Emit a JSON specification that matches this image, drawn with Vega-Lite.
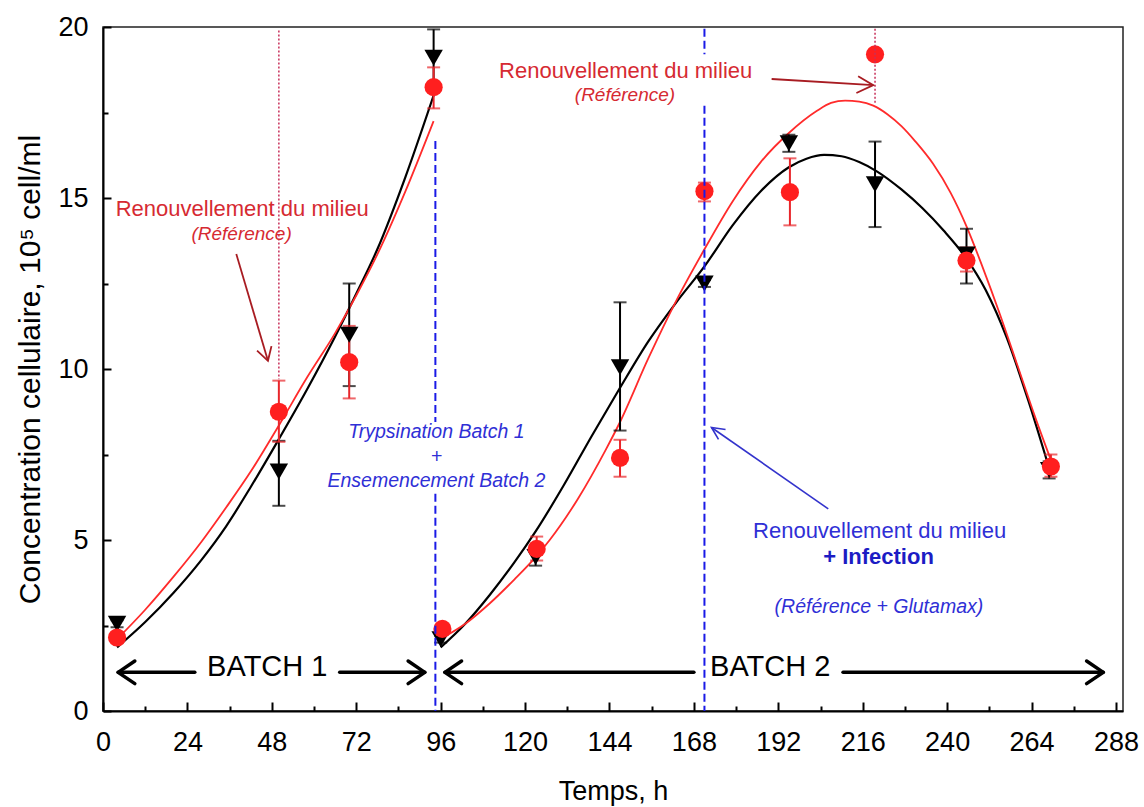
{
  "$schema": "https://vega.github.io/schema/vega-lite/v6.json",
  "width": 1020,
  "height": 684,
  "autosize": "none",
  "padding": {"left": 103, "top": 27, "right": 21, "bottom": 96},
  "background": "white",
  "config": {"font": "Liberation Sans", "view": {"stroke": "#222222", "strokeWidth": 1.5}},
  "datasets": {
    "curves": [
      {"t": 4, "y": 1.86, "s": "black", "seg": "b1"},
      {"t": 12, "y": 2.6, "s": "black", "seg": "b1"},
      {"t": 20, "y": 3.45, "s": "black", "seg": "b1"},
      {"t": 28, "y": 4.42, "s": "black", "seg": "b1"},
      {"t": 35, "y": 5.4, "s": "black", "seg": "b1"},
      {"t": 42, "y": 6.55, "s": "black", "seg": "b1"},
      {"t": 50, "y": 7.95, "s": "black", "seg": "b1"},
      {"t": 58, "y": 9.4, "s": "black", "seg": "b1"},
      {"t": 66, "y": 10.95, "s": "black", "seg": "b1"},
      {"t": 72, "y": 12.2, "s": "black", "seg": "b1"},
      {"t": 78, "y": 13.5, "s": "black", "seg": "b1"},
      {"t": 86, "y": 15.62, "s": "black", "seg": "b1"},
      {"t": 94, "y": 18.0, "s": "black", "seg": "b1"},
      {"t": 96, "y": 1.86, "s": "black", "seg": "b2"},
      {"t": 103, "y": 2.55, "s": "black", "seg": "b2"},
      {"t": 110, "y": 3.4, "s": "black", "seg": "b2"},
      {"t": 117, "y": 4.35, "s": "black", "seg": "b2"},
      {"t": 123, "y": 5.25, "s": "black", "seg": "b2"},
      {"t": 131, "y": 6.6, "s": "black", "seg": "b2"},
      {"t": 139, "y": 8.05, "s": "black", "seg": "b2"},
      {"t": 147, "y": 9.45, "s": "black", "seg": "b2"},
      {"t": 155, "y": 10.8, "s": "black", "seg": "b2"},
      {"t": 163, "y": 11.95, "s": "black", "seg": "b2"},
      {"t": 171, "y": 13.0, "s": "black", "seg": "b2"},
      {"t": 179, "y": 14.2, "s": "black", "seg": "b2"},
      {"t": 187, "y": 15.2, "s": "black", "seg": "b2"},
      {"t": 195, "y": 15.9, "s": "black", "seg": "b2"},
      {"t": 200, "y": 16.15, "s": "black", "seg": "b2"},
      {"t": 205, "y": 16.26, "s": "black", "seg": "b2"},
      {"t": 210, "y": 16.22, "s": "black", "seg": "b2"},
      {"t": 215, "y": 16.05, "s": "black", "seg": "b2"},
      {"t": 220, "y": 15.78, "s": "black", "seg": "b2"},
      {"t": 227, "y": 15.25, "s": "black", "seg": "b2"},
      {"t": 233, "y": 14.7, "s": "black", "seg": "b2"},
      {"t": 239, "y": 14.05, "s": "black", "seg": "b2"},
      {"t": 245, "y": 13.3, "s": "black", "seg": "b2"},
      {"t": 251, "y": 12.3, "s": "black", "seg": "b2"},
      {"t": 257, "y": 10.9, "s": "black", "seg": "b2"},
      {"t": 263, "y": 9.1, "s": "black", "seg": "b2"},
      {"t": 269, "y": 7.1, "s": "black", "seg": "b2"},
      {"t": 4, "y": 2.1, "s": "red", "seg": "r1"},
      {"t": 12, "y": 2.96, "s": "red", "seg": "r1"},
      {"t": 20, "y": 3.92, "s": "red", "seg": "r1"},
      {"t": 28, "y": 4.95, "s": "red", "seg": "r1"},
      {"t": 35, "y": 5.95, "s": "red", "seg": "r1"},
      {"t": 42, "y": 7.0, "s": "red", "seg": "r1"},
      {"t": 50, "y": 8.35, "s": "red", "seg": "r1"},
      {"t": 58, "y": 9.75, "s": "red", "seg": "r1"},
      {"t": 66, "y": 11.05, "s": "red", "seg": "r1"},
      {"t": 72, "y": 12.15, "s": "red", "seg": "r1"},
      {"t": 78, "y": 13.35, "s": "red", "seg": "r1"},
      {"t": 86, "y": 15.2, "s": "red", "seg": "r1"},
      {"t": 94, "y": 17.25, "s": "red", "seg": "r1"},
      {"t": 96.7, "y": 2.15, "s": "red", "seg": "r2"},
      {"t": 103, "y": 2.55, "s": "red", "seg": "r2"},
      {"t": 110, "y": 3.15, "s": "red", "seg": "r2"},
      {"t": 117, "y": 3.85, "s": "red", "seg": "r2"},
      {"t": 123, "y": 4.5, "s": "red", "seg": "r2"},
      {"t": 127, "y": 5.0, "s": "red", "seg": "r2"},
      {"t": 135, "y": 6.2, "s": "red", "seg": "r2"},
      {"t": 143, "y": 7.65, "s": "red", "seg": "r2"},
      {"t": 147, "y": 8.45, "s": "red", "seg": "r2"},
      {"t": 155, "y": 10.3, "s": "red", "seg": "r2"},
      {"t": 163, "y": 12.0, "s": "red", "seg": "r2"},
      {"t": 171, "y": 13.5, "s": "red", "seg": "r2"},
      {"t": 179, "y": 14.9, "s": "red", "seg": "r2"},
      {"t": 187, "y": 16.05, "s": "red", "seg": "r2"},
      {"t": 195, "y": 16.9, "s": "red", "seg": "r2"},
      {"t": 203, "y": 17.55, "s": "red", "seg": "r2"},
      {"t": 207, "y": 17.78, "s": "red", "seg": "r2"},
      {"t": 211, "y": 17.85, "s": "red", "seg": "r2"},
      {"t": 215, "y": 17.82, "s": "red", "seg": "r2"},
      {"t": 219, "y": 17.7, "s": "red", "seg": "r2"},
      {"t": 223, "y": 17.45, "s": "red", "seg": "r2"},
      {"t": 227, "y": 17.1, "s": "red", "seg": "r2"},
      {"t": 231, "y": 16.65, "s": "red", "seg": "r2"},
      {"t": 236, "y": 16.0, "s": "red", "seg": "r2"},
      {"t": 241, "y": 15.15, "s": "red", "seg": "r2"},
      {"t": 245.6, "y": 14.15, "s": "red", "seg": "r2"},
      {"t": 250, "y": 13.0, "s": "red", "seg": "r2"},
      {"t": 255, "y": 11.6, "s": "red", "seg": "r2"},
      {"t": 260, "y": 10.1, "s": "red", "seg": "r2"},
      {"t": 265, "y": 8.6, "s": "red", "seg": "r2"},
      {"t": 270, "y": 7.2, "s": "red", "seg": "r2"}
    ],
    "pts": [
      {"t": 4, "y": 2.55, "lo": 2.45, "hi": 2.65, "s": "black"},
      {"t": 50, "y": 7.0, "lo": 6.0, "hi": 7.9, "s": "black"},
      {"t": 70, "y": 11.0, "lo": 9.5, "hi": 12.5, "s": "black"},
      {"t": 94, "y": 19.1, "lo": 18.3, "hi": 19.93, "s": "black"},
      {"t": 96, "y": 2.1, "lo": 2.0, "hi": 2.2, "s": "black"},
      {"t": 123, "y": 4.5, "lo": 4.25, "hi": 4.75, "s": "black"},
      {"t": 147, "y": 10.05, "lo": 8.2, "hi": 11.95, "s": "black"},
      {"t": 171, "y": 12.5, "lo": 12.4, "hi": 12.6, "s": "black"},
      {"t": 195, "y": 16.6, "lo": 16.35, "hi": 16.85, "s": "black"},
      {"t": 219.5, "y": 15.4, "lo": 14.15, "hi": 16.65, "s": "black"},
      {"t": 245.5, "y": 13.35, "lo": 12.5, "hi": 14.1, "s": "black"},
      {"t": 269, "y": 7.05, "lo": 6.8, "hi": 7.3, "s": "black"},
      {"t": 4, "y": 2.15, "lo": 2.1, "hi": 2.2, "s": "red"},
      {"t": 50, "y": 8.75, "lo": 7.87, "hi": 9.66, "s": "red"},
      {"t": 70, "y": 10.2, "lo": 9.14, "hi": 11.26, "s": "red"},
      {"t": 94, "y": 18.24, "lo": 17.62, "hi": 18.82, "s": "red"},
      {"t": 96.5, "y": 2.4, "lo": 2.35, "hi": 2.45, "s": "red"},
      {"t": 123.3, "y": 4.74, "lo": 4.4, "hi": 5.1, "s": "red"},
      {"t": 147, "y": 7.4, "lo": 6.85, "hi": 7.93, "s": "red"},
      {"t": 171, "y": 15.2, "lo": 14.9, "hi": 15.45, "s": "red"},
      {"t": 195.3, "y": 15.17, "lo": 14.2, "hi": 16.16, "s": "red"},
      {"t": 219.5, "y": 19.2, "lo": 19.2, "hi": 19.2, "s": "red"},
      {"t": 245.5, "y": 13.17, "lo": 12.85, "hi": 13.55, "s": "red"},
      {"t": 269.5, "y": 7.15, "lo": 6.85, "hi": 7.5, "s": "red"}
    ],
    "vlines": [
      {"t": 50, "y": 19.9, "y2": 9.7, "k": "red"},
      {"t": 219.5, "y": 19.95, "y2": 17.75, "k": "red"},
      {"t": 94.5, "y": 16.67, "y2": 8.45, "k": "blue"},
      {"t": 94.5, "y": 6.35, "y2": 0, "k": "blue"},
      {"t": 171, "y": 19.95, "y2": 19.2, "k": "blue"},
      {"t": 171, "y": 17.7, "y2": 0, "k": "blue"}
    ],
    "arrows": [
      {"id": "b1a", "o": 1, "t": 4.3, "y": 1.13, "k": "black"},
      {"id": "b1a", "o": 2, "t": 26.1, "y": 1.13, "k": "black"},
      {"id": "b1b", "o": 1, "t": 67.3, "y": 1.13, "k": "black"},
      {"id": "b1b", "o": 2, "t": 91.5, "y": 1.13, "k": "black"},
      {"id": "b1h1", "o": 1, "t": 9.05, "y": 1.46, "k": "black"},
      {"id": "b1h1", "o": 2, "t": 4.3, "y": 1.13, "k": "black"},
      {"id": "b1h1", "o": 3, "t": 9.05, "y": 0.8, "k": "black"},
      {"id": "b1h2", "o": 1, "t": 86.75, "y": 1.46, "k": "black"},
      {"id": "b1h2", "o": 2, "t": 91.5, "y": 1.13, "k": "black"},
      {"id": "b1h2", "o": 3, "t": 86.75, "y": 0.8, "k": "black"},
      {"id": "b2a", "o": 1, "t": 97.2, "y": 1.13, "k": "black"},
      {"id": "b2a", "o": 2, "t": 168, "y": 1.13, "k": "black"},
      {"id": "b2b", "o": 1, "t": 210.4, "y": 1.13, "k": "black"},
      {"id": "b2b", "o": 2, "t": 284.4, "y": 1.13, "k": "black"},
      {"id": "b2h1", "o": 1, "t": 101.95, "y": 1.46, "k": "black"},
      {"id": "b2h1", "o": 2, "t": 97.2, "y": 1.13, "k": "black"},
      {"id": "b2h1", "o": 3, "t": 101.95, "y": 0.8, "k": "black"},
      {"id": "b2h2", "o": 1, "t": 279.65, "y": 1.46, "k": "black"},
      {"id": "b2h2", "o": 2, "t": 284.4, "y": 1.13, "k": "black"},
      {"id": "b2h2", "o": 3, "t": 279.65, "y": 0.8, "k": "black"},
      {"id": "r1", "o": 1, "t": 37.9, "y": 13.36, "k": "red"},
      {"id": "r1", "o": 2, "t": 46.9, "y": 10.24, "k": "red"},
      {"id": "r1h", "o": 1, "t": 43.8, "y": 10.54, "k": "red"},
      {"id": "r1h", "o": 2, "t": 46.9, "y": 10.24, "k": "red"},
      {"id": "r1h", "o": 3, "t": 47.9, "y": 10.67, "k": "red"},
      {"id": "r2", "o": 1, "t": 190.1, "y": 18.48, "k": "red"},
      {"id": "r2", "o": 2, "t": 219.0, "y": 18.3, "k": "red"},
      {"id": "r2h", "o": 1, "t": 214.7, "y": 18.56, "k": "red"},
      {"id": "r2h", "o": 2, "t": 219.0, "y": 18.3, "k": "red"},
      {"id": "r2h", "o": 3, "t": 214.2, "y": 18.07, "k": "red"},
      {"id": "bl", "o": 1, "t": 206.2, "y": 5.91, "k": "blue"},
      {"id": "bl", "o": 2, "t": 173.0, "y": 8.29, "k": "blue"},
      {"id": "blh", "o": 1, "t": 175.0, "y": 7.94, "k": "blue"},
      {"id": "blh", "o": 2, "t": 173.0, "y": 8.29, "k": "blue"},
      {"id": "blh", "o": 3, "t": 177.0, "y": 8.23, "k": "blue"}
    ],
    "labels": [
      {"t": 39.6, "y": 14.68, "label": "Renouvellement du milieu", "st": "red"},
      {"t": 148.6, "y": 18.72, "label": "Renouvellement du milieu", "st": "red"},
      {"t": 39.4, "y": 13.95, "label": "(Référence)", "st": "redi"},
      {"t": 148.4, "y": 18.0, "label": "(Référence)", "st": "redi"},
      {"t": 94.8, "y": 8.15, "label": "Trypsination Batch 1", "st": "bluei"},
      {"t": 94.8, "y": 7.42, "label": "+", "st": "bluei"},
      {"t": 94.8, "y": 6.73, "label": "Ensemencement Batch 2", "st": "bluei"},
      {"t": 220.6, "y": 3.03, "label": "(Référence + Glutamax)", "st": "bluei"},
      {"t": 220.8, "y": 5.27, "label": "Renouvellement du milieu", "st": "blue"},
      {"t": 220.5, "y": 4.49, "label": "+ Infection", "st": "blueb"},
      {"t": 46.7, "y": 1.28, "label": "BATCH 1", "st": "black"},
      {"t": 189.7, "y": 1.28, "label": "BATCH 2", "st": "black"}
    ]
  },
  "encoding": {
    "x": {"field": "t", "type": "quantitative", "scale": {"domain": [0, 290], "nice": false, "zero": false}, "axis": null},
    "y": {"field": "y", "type": "quantitative", "scale": {"domain": [0, 20], "nice": false}, "axis": null}
  },
  "layer": [
    {
      "data": {"name": "curves"},
      "transform": [{"filter": "datum.s === 'black'"}],
      "mark": {"type": "line", "color": "black", "strokeWidth": 2.2, "interpolate": "monotone"},
      "encoding": {
        "x": {"field": "t", "type": "quantitative", "scale": {"domain": [0, 290], "nice": false, "zero": false},
          "axis": {"orient": "bottom", "values": [0, 24, 48, 72, 96, 120, 144, 168, 192, 216, 240, 264, 288], "grid": false,
            "tickSize": -9, "tickWidth": 2, "tickColor": "black", "domainColor": "black", "domainWidth": 2,
            "labelFontSize": 27, "labelColor": "black", "labelPadding": 27, "labelFlush": false, "labelOverlap": false,
            "title": "Temps, h", "titleFontSize": 27, "titleFontWeight": "normal", "titleColor": "black", "titlePadding": 23}},
        "y": {"field": "y", "type": "quantitative", "scale": {"domain": [0, 20], "nice": false},
          "axis": {"orient": "left", "values": [0, 5, 10, 15, 20], "grid": false,
            "tickSize": -8, "tickWidth": 2, "tickColor": "black", "domainColor": "black", "domainWidth": 2,
            "labelFontSize": 27, "labelColor": "black", "labelPadding": 23, "labelFlush": false, "labelOverlap": false,
            "title": "Concentration cellulaire, 10⁵ cell/ml", "titleFontSize": 30, "titleFontWeight": "normal", "titleColor": "black", "titlePadding": 12}},
        "detail": {"field": "seg"}
      }
    },
    {
      "data": {"name": "curves"},
      "transform": [{"filter": "datum.s === 'red'"}],
      "mark": {"type": "line", "color": "#ff2b2b", "strokeWidth": 1.8, "interpolate": "monotone"},
      "encoding": {
        "x": {"field": "t", "type": "quantitative", "scale": {"domain": [0, 290], "nice": false, "zero": false},
          "axis": {"orient": "bottom", "values": [12, 36, 60, 84, 108, 132, 156, 180, 204, 228, 252, 276], "grid": false,
            "tickSize": -5, "tickWidth": 2, "tickColor": "black", "domain": false, "labels": false, "title": null}},
        "y": {"field": "y", "type": "quantitative", "scale": {"domain": [0, 20], "nice": false},
          "axis": {"orient": "left", "values": [2.5, 7.5, 12.5, 17.5], "grid": false,
            "tickSize": -5, "tickWidth": 2, "tickColor": "black", "domain": false, "labels": false, "title": null}},
        "detail": {"field": "seg"}
      }
    },
    {
      "data": {"name": "pts"},
      "transform": [{"filter": "datum.s === 'black' && datum.hi > datum.lo"}],
      "mark": {"type": "errorbar", "ticks": true, "size": 13, "thickness": 2, "color": "black"},
      "encoding": {
        "y": {"field": "lo", "type": "quantitative", "scale": {"domain": [0, 20], "nice": false}, "axis": null},
        "y2": {"field": "hi"}
      }
    },
    {
      "data": {"name": "pts"},
      "transform": [{"filter": "datum.s === 'red' && datum.hi > datum.lo"}],
      "mark": {"type": "errorbar", "ticks": true, "size": 13, "thickness": 2, "color": "#e8262b"},
      "encoding": {
        "y": {"field": "lo", "type": "quantitative", "scale": {"domain": [0, 20], "nice": false}, "axis": null},
        "y2": {"field": "hi"}
      }
    },
    {
      "data": {"name": "pts"},
      "transform": [{"filter": "datum.s === 'black'"}],
      "mark": {"type": "point", "shape": "triangle-down", "filled": true, "size": 340, "color": "black", "opacity": 1}
    },
    {
      "data": {"name": "pts"},
      "transform": [{"filter": "datum.s === 'red'"}],
      "mark": {"type": "circle", "size": 330, "color": "#ff1f1f", "opacity": 1}
    },
    {
      "data": {"name": "vlines"},
      "transform": [{"filter": "datum.k === 'red'"}],
      "mark": {"type": "rule", "color": "#c8305a", "strokeWidth": 1.5, "strokeDash": [2, 2]},
      "encoding": {"y2": {"field": "y2"}}
    },
    {
      "data": {"name": "vlines"},
      "transform": [{"filter": "datum.k === 'blue'"}],
      "mark": {"type": "rule", "color": "#1a1ae6", "strokeWidth": 2, "strokeDash": [8, 4]},
      "encoding": {"y2": {"field": "y2"}}
    },
    {
      "data": {"name": "arrows"},
      "transform": [{"filter": "datum.k === 'black'"}],
      "mark": {"type": "line", "color": "black", "strokeWidth": 3.5, "strokeCap": "round", "strokeJoin": "round"},
      "encoding": {"detail": {"field": "id"}, "order": {"field": "o", "type": "quantitative"}}
    },
    {
      "data": {"name": "arrows"},
      "transform": [{"filter": "datum.k === 'red'"}],
      "mark": {"type": "line", "color": "#a81c22", "strokeWidth": 1.8},
      "encoding": {"detail": {"field": "id"}, "order": {"field": "o", "type": "quantitative"}}
    },
    {
      "data": {"name": "arrows"},
      "transform": [{"filter": "datum.k === 'blue'"}],
      "mark": {"type": "line", "color": "#3333cc", "strokeWidth": 1.6},
      "encoding": {"detail": {"field": "id"}, "order": {"field": "o", "type": "quantitative"}}
    },
    {
      "data": {"name": "labels"},
      "transform": [{"filter": "datum.st === 'red'"}],
      "mark": {"type": "text", "fontSize": 22, "color": "#d62a32", "align": "center", "baseline": "middle"},
      "encoding": {"text": {"field": "label"}}
    },
    {
      "data": {"name": "labels"},
      "transform": [{"filter": "datum.st === 'redi'"}],
      "mark": {"type": "text", "fontSize": 19, "fontStyle": "italic", "color": "#d62a32", "align": "center", "baseline": "middle"},
      "encoding": {"text": {"field": "label"}}
    },
    {
      "data": {"name": "labels"},
      "transform": [{"filter": "datum.st === 'bluei'"}],
      "mark": {"type": "text", "fontSize": 19.5, "fontStyle": "italic", "color": "#2f2fd6", "align": "center", "baseline": "middle"},
      "encoding": {"text": {"field": "label"}}
    },
    {
      "data": {"name": "labels"},
      "transform": [{"filter": "datum.st === 'blue'"}],
      "mark": {"type": "text", "fontSize": 22, "color": "#2f2fd6", "align": "center", "baseline": "middle"},
      "encoding": {"text": {"field": "label"}}
    },
    {
      "data": {"name": "labels"},
      "transform": [{"filter": "datum.st === 'blueb'"}],
      "mark": {"type": "text", "fontSize": 22, "fontWeight": "bold", "color": "#1c1cc4", "align": "center", "baseline": "middle"},
      "encoding": {"text": {"field": "label"}}
    },
    {
      "data": {"name": "labels"},
      "transform": [{"filter": "datum.st === 'black'"}],
      "mark": {"type": "text", "fontSize": 29, "color": "black", "align": "center", "baseline": "middle"},
      "encoding": {"text": {"field": "label"}}
    }
  ],
  "resolve": {"axis": {"x": "independent", "y": "independent"}}
}
